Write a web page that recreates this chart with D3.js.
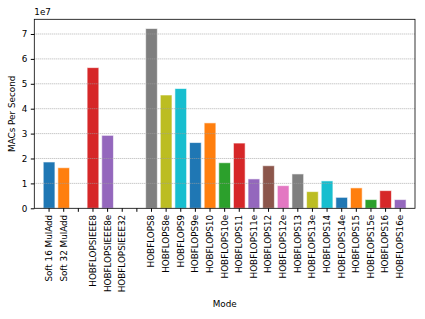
<!DOCTYPE html>
<html lang="en">
<head>
<meta charset="utf-8">
<title>MACs Per Second</title>
<script src="https://d3js.org/d3.v7.min.js"></script>
<style>
  body { margin: 0; background: #fff; }
  text { font-family: "DejaVu Sans", sans-serif; fill: #000; }
</style>
</head>
<body>
<div id="chart"></div>
<script>
// data (values in 1e7 MACs per second)
const modes = ["Soft 16 MulAdd", "Soft 32 MulAdd", "",
  "HOBFLOPSIEEE8", "HOBFLOPSIEEE8e", "HOBFLOPSIEEE32", "",
  "HOBFLOPS8", "HOBFLOPS8e", "HOBFLOPS9", "HOBFLOPS9e", "HOBFLOPS10", "HOBFLOPS10e",
  "HOBFLOPS11", "HOBFLOPS11e", "HOBFLOPS12", "HOBFLOPS12e", "HOBFLOPS13", "HOBFLOPS13e",
  "HOBFLOPS14", "HOBFLOPS14e", "HOBFLOPS15", "HOBFLOPS15e", "HOBFLOPS16", "HOBFLOPS16e"];
const macs = [1.86, 1.63, 0,
  5.65, 2.93, 0, 0,
  7.22, 4.55, 4.81, 2.64, 3.43, 1.83,
  2.62, 1.18, 1.71, 0.91, 1.38, 0.67,
  1.10, 0.44, 0.82, 0.35, 0.71, 0.35];
const yTicks = [0, 1, 2, 3, 4, 5, 6, 7];

const width = 425, height = 319;
const plotLeft = 34.3, plotRight = 415, plotTop = 19.3, plotBottom = 208.3;
const fontSize = "8.8px";

const svg = d3.select("#chart").append("svg")
  .attr("width", width).attr("height", height);

const keys = modes.map((m, i) => i);
const x = d3.scaleBand()
  .domain(keys)
  .range([plotLeft, plotRight])
  .paddingInner(0.2)
  .paddingOuter(0.61);

const y = d3.scaleLinear()
  .domain([0, 7.59])
  .range([plotBottom, plotTop]);

const colors = d3.schemeCategory10;

// bars
svg.append("g")
  .selectAll("rect")
  .data(macs)
  .enter()
  .append("rect")
  .attr("x", (d, i) => x(i))
  .attr("y", d => y(d))
  .attr("width", x.bandwidth())
  .attr("height", d => plotBottom - y(d))
  .attr("fill", (d, i) => colors[i % 10])
  .attr("stroke", "#fff")
  .attr("stroke-opacity", 0.6)
  .attr("stroke-width", 1);

// grid on top
svg.append("g")
  .selectAll("line")
  .data(yTicks.slice(1))
  .enter()
  .append("line")
  .attr("x1", plotLeft).attr("x2", plotRight)
  .attr("y1", d => y(d)).attr("y2", d => y(d))
  .attr("stroke", "#a0a0a0")
  .attr("stroke-width", 0.8)
  .attr("stroke-dasharray", "1,1");

// y axis
const yAxis = d3.axisLeft(y).tickValues(yTicks).tickFormat(d3.format("d"))
  .tickSize(3.5).tickPadding(3.5);
const gy = svg.append("g")
  .attr("transform", `translate(${plotLeft},0)`)
  .call(yAxis);
gy.select(".domain").remove();
gy.selectAll("text").style("font-size", fontSize);

// x axis
const xAxis = d3.axisBottom(x).tickFormat(i => modes[i]).tickSize(3.5).tickPadding(3);
const gx = svg.append("g")
  .attr("transform", `translate(0,${plotBottom})`)
  .call(xAxis);
gx.select(".domain").remove();
gx.selectAll("text")
  .style("font-size", fontSize)
  .attr("transform", "rotate(-90)")
  .attr("x", -6.5)
  .attr("y", 0)
  .attr("dy", "0.33em")
  .attr("text-anchor", "end");

// frame
svg.append("rect")
  .attr("x", plotLeft).attr("y", plotTop)
  .attr("width", plotRight - plotLeft).attr("height", plotBottom - plotTop)
  .attr("fill", "none")
  .attr("stroke", "#000")
  .attr("stroke-width", 0.8);

// labels
svg.append("text")
  .attr("x", plotLeft).attr("y", plotTop - 4)
  .style("font-size", fontSize)
  .text("1e7");

svg.append("text")
  .attr("transform", `translate(15,${(plotTop + plotBottom) / 2}) rotate(-90)`)
  .attr("text-anchor", "middle")
  .style("font-size", fontSize)
  .text("MACs Per Second");

svg.append("text")
  .attr("x", (plotLeft + plotRight) / 2).attr("y", 307)
  .attr("text-anchor", "middle")
  .style("font-size", fontSize)
  .text("Mode");
</script>
</body>
</html>
